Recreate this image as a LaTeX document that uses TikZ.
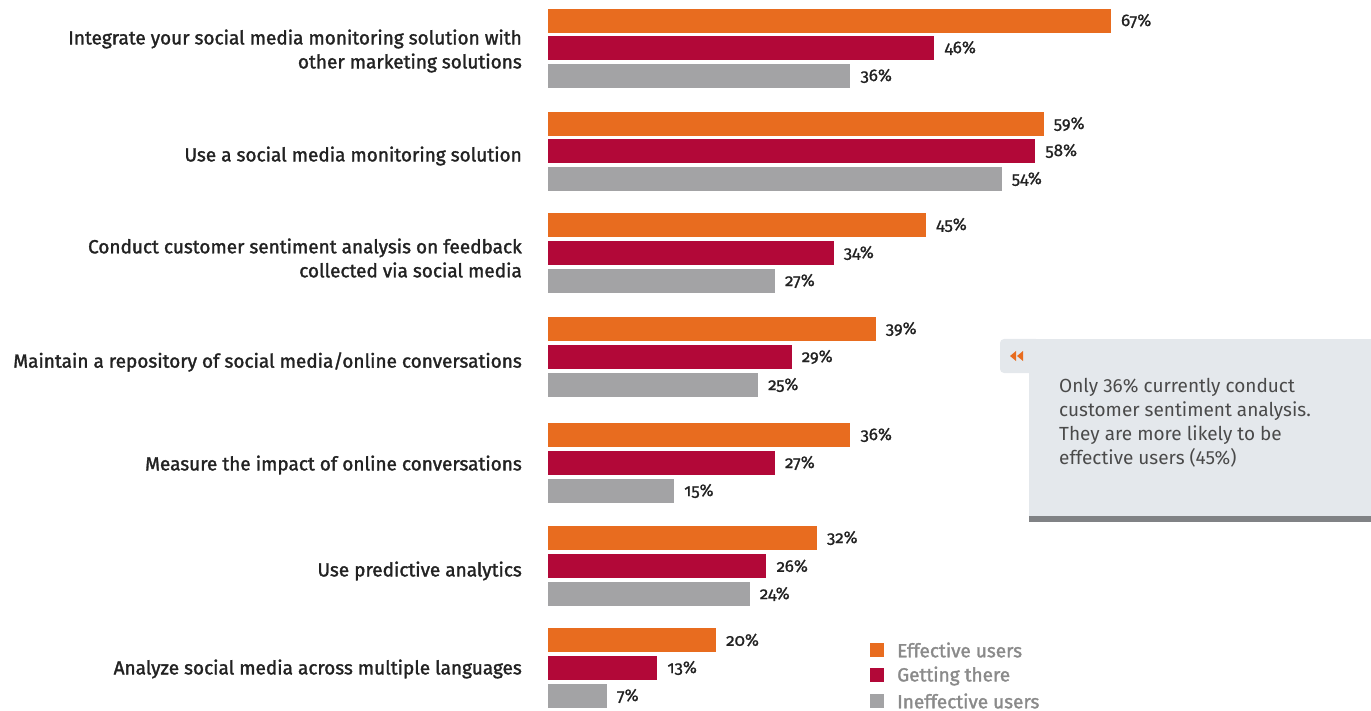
\documentclass[tikz,border=0pt]{standalone}
\usepackage{fontspec}
\setmainfont{Fira Sans}
\newfontfamily\medfont{Fira Sans}[FakeBold=1.6]
\newfontfamily\pctfont{Fira Sans}[FakeBold=0.8, Numbers=OldStyle]
\definecolor{cOr}{HTML}{E86C1F}
\definecolor{cRd}{HTML}{B20838}
\definecolor{cGy}{HTML}{A3A3A5}
\definecolor{cTx}{HTML}{222222}
\definecolor{cBox}{HTML}{E4E8EC}
\definecolor{cStripe}{HTML}{808285}
\definecolor{cNote}{HTML}{4A4A4A}
\definecolor{cLeg}{HTML}{8A8A8A}
\tikzset{
  bar/.style={inner sep=0pt, outer sep=0pt, minimum height=24pt, anchor=west},
  pct/.style={anchor=west, inner sep=0pt, text=cTx, font=\pctfont\fontsize{17}{20}\selectfont},
  lab/.style={anchor=east, align=right, inner sep=0pt, text=cTx, font=\medfont\fontsize{19}{24}\selectfont},
  legbox/.style={minimum size=14pt, inner sep=0pt},
  legtxt/.style={anchor=west, inner sep=0pt, text=cLeg, font=\medfont\fontsize{19}{20}\selectfont},
}
\newcommand{\mybar}[4]{%
  \node[bar, fill=#3, minimum width=#4*8.4pt] (#1) at (548,#2) {};
  \node[pct] (#1p) at ([xshift=10pt]#1.east) {#4\%};
}
\begin{document}
\begin{tikzpicture}[x=1pt,y=-1pt]
\useasboundingbox (0,0) rectangle (1371,711);
\mybar{a1}{21}{cOr}{67}\mybar{a2}{48}{cRd}{46}\mybar{a3}{76}{cGy}{36}
\mybar{b1}{124}{cOr}{59}\mybar{b2}{151}{cRd}{58}\mybar{b3}{179}{cGy}{54}
\mybar{c1}{225}{cOr}{45}\mybar{c2}{253}{cRd}{34}\mybar{c3}{281}{cGy}{27}
\mybar{d1}{329}{cOr}{39}\mybar{d2}{357}{cRd}{29}\mybar{d3}{385}{cGy}{25}
\mybar{e1}{435}{cOr}{36}\mybar{e2}{463}{cRd}{27}\mybar{e3}{491}{cGy}{15}
\mybar{f1}{538}{cOr}{32}\mybar{f2}{566}{cRd}{26}\mybar{f3}{594}{cGy}{24}
\mybar{g1}{640}{cOr}{20}\mybar{g2}{668}{cRd}{13}\mybar{g3}{696}{cGy}{7}
% labels
\node[lab] (la) at (522,51) {Integrate your social media monitoring solution with\\other marketing solutions};
\node[lab] (lb) at (522,156) {Use a social media monitoring solution};
\node[lab] (lc) at (522,258) {Conduct customer sentiment analysis on feedback\\collected via social media};
\node[lab] (ld) at (522,362) {Maintain a repository of social media/online conversations};
\node[lab] (le) at (522,465) {Measure the impact of online conversations};
\node[lab] (lf) at (522,571) {Use predictive analytics};
\node[lab] (lg) at (522,669) {Analyze social media across multiple languages};
% callout
\fill[cBox, rounded corners=4pt] (1000,339) rectangle (1040,373);
\fill[cBox] (1029,339) rectangle (1371,517);
\fill[cStripe] (1029,516) rectangle (1371,522);
\fill[cOr] (1010,356) -- (1016,351) -- (1016,361) -- cycle;
\fill[cOr] (1017,356) -- (1023,351) -- (1023,361) -- cycle;
\node[anchor=north west, align=left, inner sep=0pt, text=cNote, font=\fontsize{19}{24}\selectfont] (note) at (1059,378)
 {Only 36\% currently conduct\\customer sentiment analysis.\\They are more likely to be\\effective users (45\%)};
% legend
\node[legbox, fill=cOr] (k1) at (877,650) {};
\node[legbox, fill=cRd] (k2) at (877,675) {};
\node[legbox, fill=cGy] (k3) at (877,701) {};
\node[legtxt] (t1) at (897,650) {Effective users};
\node[legtxt] (t2) at (897,676) {Getting there};
\node[legtxt] (t3) at (897,701) {Ineffective users};
\end{tikzpicture}
\end{document}
